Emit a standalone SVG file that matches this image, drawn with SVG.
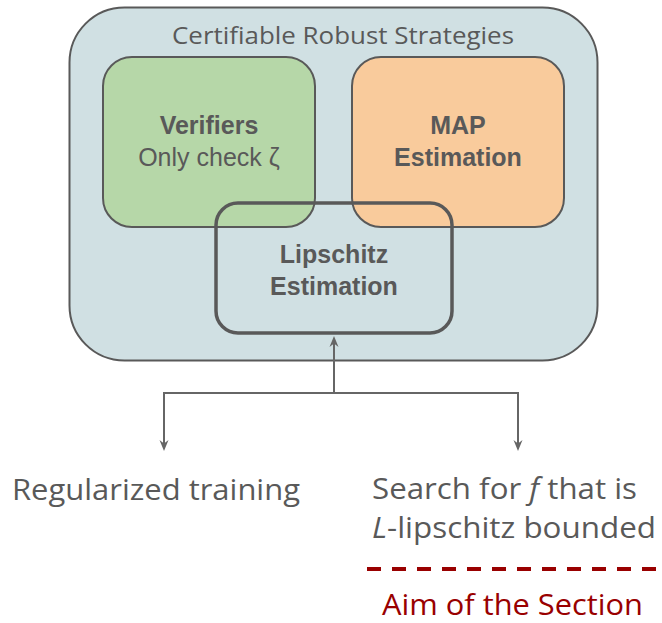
<svg xmlns="http://www.w3.org/2000/svg" width="662" height="623" viewBox="0 0 662 623">
  <style>
    .frame { stroke: #595959; stroke-width: 2; }
    .box { stroke: #595959; stroke-width: 2; }
    .ring { fill: none; stroke: #595959; stroke-width: 3.5; }
    .link { fill: none; stroke: #666666; stroke-width: 2; }
    .head { fill: #666666; }
    .sans { font-family: "Open Sans", "Noto Sans", "Liberation Sans", sans-serif; fill: #595959; }
    .arial { font-family: "Liberation Sans", Arial, sans-serif; fill: #595959; font-size: 25px; }
    .bold { font-weight: bold; }
    .aim { fill: #990000; }
  </style>

  <!-- outer container -->
  <g id="strategies">
    <rect class="frame" x="69.5" y="7.5" width="528" height="353" rx="55" fill="#d0e0e3"/>
    <text class="sans" x="343" y="44" font-size="24" text-anchor="middle" textLength="342" lengthAdjust="spacingAndGlyphs">Certifiable Robust Strategies</text>
  </g>

  <g id="verifiers">
    <rect class="box" x="103" y="57" width="212" height="170" rx="29" fill="#b6d7a8"/>
    <text class="arial bold" x="209" y="134" text-anchor="middle">Verifiers</text>
    <text class="arial" x="209" y="166" text-anchor="middle">Only check ζ</text>
  </g>

  <g id="map">
    <rect class="box" x="352" y="57" width="212" height="170" rx="29" fill="#f9cb9c"/>
    <text class="arial bold" x="458" y="134" text-anchor="middle">MAP</text>
    <text class="arial bold" x="458" y="166" text-anchor="middle">Estimation</text>
  </g>

  <g id="lipschitz">
    <rect class="ring" x="216" y="203" width="236" height="130" rx="22"/>
    <text class="arial bold" x="334" y="263" text-anchor="middle">Lipschitz</text>
    <text class="arial bold" x="334" y="295" text-anchor="middle">Estimation</text>
  </g>

  <!-- connectors: one upward trunk, one split bar with two drops -->
  <g id="connectors">
    <path class="link" d="M334,393 V340"/>
    <path class="link" d="M164,446 V393 H518 V446"/>
    <path class="head" d="M334,336 L329.5,347 L334,343.5 L338.5,347 Z"/>
    <path class="head" d="M164,451 L159.5,440 L164,443.5 L168.5,440 Z"/>
    <path class="head" d="M518,451 L513.5,440 L518,443.5 L522.5,440 Z"/>
  </g>

  <g id="regularized">
    <text class="sans" x="12" y="500" font-size="29" textLength="288" lengthAdjust="spacingAndGlyphs">Regularized training</text>
  </g>

  <g id="search">
    <text class="sans" x="372" y="499" font-size="29" textLength="265" lengthAdjust="spacingAndGlyphs">Search for <tspan font-style="italic">f</tspan> that is</text>
    <text class="sans" x="372" y="538" font-size="29" textLength="284" lengthAdjust="spacingAndGlyphs"><tspan font-style="italic">L</tspan>-lipschitz bounded</text>
  </g>

  <g id="aim">
    <line x1="367" y1="569" x2="662" y2="569" stroke="#990000" stroke-width="4" stroke-dasharray="14 11"/>
    <text class="sans aim" x="382" y="615" font-size="29" textLength="261" lengthAdjust="spacingAndGlyphs">Aim of the Section</text>
  </g>
</svg>
